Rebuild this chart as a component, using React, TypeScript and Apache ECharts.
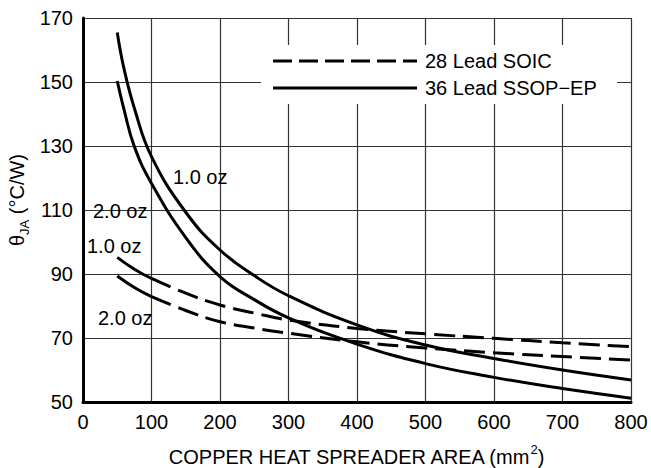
import React, { useEffect, useRef } from "react";
import * as echarts from "echarts";

const xTicks = [0, 100, 200, 300, 400, 500, 600, 700, 800];
const yTicks = [50, 70, 90, 110, 130, 150, 170];

const ssopAreas = [50, 60, 75, 100, 150, 200, 250, 300, 400, 500, 600, 700, 800];
const ssop1oz = [165.5, 154, 141.8, 126.7, 109.3, 97.5, 89.5, 83.2, 74.1, 67.8, 63.6, 60, 56.9];
const ssop2oz = [150.3, 141.3, 129.8, 118.3, 101.4, 89.2, 82, 76.3, 68.1, 62, 57.7, 54.2, 51.2];

const soicAreas = [50, 75, 100, 150, 200, 250, 300, 400, 500, 600, 700, 800];
const soic1oz = [95.2, 91.5, 88.6, 84.0, 80.3, 77.8, 75.6, 73.0, 71.3, 69.9, 68.5, 67.3];
const soic2oz = [89.4, 85.8, 82.9, 78.6, 75.1, 73.1, 71.5, 68.8, 66.9, 65.4, 64.2, 63.1];

const legendNames = ["28 Lead SOIC", "36 Lead SSOP\u2212EP"];
const curveLabels = ["1.0 oz", "2.0 oz", "1.0 oz", "2.0 oz"];

const FONT = "'Liberation Sans', Arial, Helvetica, sans-serif";
const FS = 20;

function pairs(xs: number[], ys: number[]) {
  return xs.map((x, i) => [x, ys[i]]);
}

export default function App() {
  const ref = useRef<HTMLDivElement>(null);
  useEffect(() => {
    if (!ref.current) return;
    const chart = echarts.init(ref.current, undefined, { renderer: "svg" });
    const solid = { color: "#000", width: 3, type: "solid" as const };
    const dashed = { color: "#000", width: 3, type: [21, 8] as any };
    const lineBase = {
      type: "line" as const,
      showSymbol: false,
      smooth: 0.45,
      silent: true,
    };
    const soic1 = pairs(soicAreas, soic1oz);
    const soic2 = pairs(soicAreas, soic2oz);
    chart.setOption({
      animation: false,
      backgroundColor: "#fff",
      textStyle: { fontFamily: FONT },
      grid: { left: 83, right: 20, top: 18, bottom: 66 },
      xAxis: {
        type: "value",
        min: 0,
        max: 800,
        interval: 100,
        axisLine: { show: true, onZero: false, lineStyle: { color: "#000", width: 3 } },
        axisTick: { show: false },
        axisLabel: { color: "#000", fontSize: FS, fontFamily: FONT, margin: 10 },
        splitLine: { show: true, lineStyle: { color: "#333", width: 1.2 } },
      },
      yAxis: {
        type: "value",
        min: 50,
        max: 170,
        interval: 20,
        axisLine: { show: true, onZero: false, lineStyle: { color: "#000", width: 3 } },
        axisTick: { show: false },
        axisLabel: { color: "#000", fontSize: FS, fontFamily: FONT, margin: 10 },
        splitLine: { show: true, lineStyle: { color: "#333", width: 1.2 } },
      },
      series: [
        { ...lineBase, name: "ssop1", data: pairs(ssopAreas, ssop1oz), lineStyle: solid },
        { ...lineBase, name: "ssop2", data: pairs(ssopAreas, ssop2oz), lineStyle: solid },
        { ...lineBase, name: "soic1a", data: soic1.slice(0, 3), lineStyle: solid },
        { ...lineBase, name: "soic1b", data: soic1.slice(2), lineStyle: dashed },
        { ...lineBase, name: "soic2a", data: soic2.slice(0, 3), lineStyle: solid },
        { ...lineBase, name: "soic2b", data: soic2.slice(2), lineStyle: dashed },
      ],
      graphic: [
        { type: "rect", z: 50, shape: { x: 261, y: 45, width: 356, height: 59 }, style: { fill: "#fff" } },
        { type: "line", z: 51, shape: { x1: 273, y1: 61, x2: 417, y2: 61 }, style: { stroke: "#000", lineWidth: 3, lineDash: [19, 7] } },
        { type: "line", z: 51, shape: { x1: 273, y1: 88, x2: 417, y2: 88 }, style: { stroke: "#000", lineWidth: 3 } },
        { type: "text", z: 51, x: 425, y: 61, style: { text: legendNames[0], fill: "#000", fontSize: FS, fontFamily: FONT, align: "left", verticalAlign: "middle" } },
        { type: "text", z: 51, x: 425, y: 88, style: { text: legendNames[1], fill: "#000", fontSize: FS, fontFamily: FONT, align: "left", verticalAlign: "middle" } },
        { type: "text", z: 51, x: 173, y: 177, style: { text: curveLabels[0], fill: "#000", fontSize: FS, fontFamily: FONT, align: "left", verticalAlign: "middle" } },
        { type: "text", z: 51, x: 93, y: 211, style: { text: curveLabels[1], fill: "#000", fontSize: FS, fontFamily: FONT, align: "left", verticalAlign: "middle" } },
        { type: "text", z: 51, x: 87, y: 246, style: { text: curveLabels[2], fill: "#000", fontSize: FS, fontFamily: FONT, align: "left", verticalAlign: "middle" } },
        { type: "text", z: 51, x: 98, y: 318, style: { text: curveLabels[3], fill: "#000", fontSize: FS, fontFamily: FONT, align: "left", verticalAlign: "middle" } },
        {
          type: "text",
          z: 51,
          x: 356,
          y: 455,
          style: {
            text: "{a|COPPER HEAT SPREADER AREA (mm}{s|2}{a|)}",
            align: "center",
            verticalAlign: "middle",
            rich: {
              a: { fontSize: FS, fontFamily: FONT, fill: "#000", lineHeight: 24, verticalAlign: "bottom" },
              s: { fontSize: 13, fontFamily: FONT, fill: "#000", lineHeight: 14, verticalAlign: "top" },
            },
          },
        },
        {
          type: "text",
          z: 51,
          x: 19,
          y: 200,
          rotation: Math.PI / 2,
          style: {
            text: "{a|\u03B8}{s|JA}{a| (\u00B0C/W)}",
            align: "center",
            verticalAlign: "middle",
            rich: {
              a: { fontSize: FS, fontFamily: FONT, fill: "#000", lineHeight: 24, verticalAlign: "top" },
              s: { fontSize: 13, fontFamily: FONT, fill: "#000", lineHeight: 14, verticalAlign: "bottom" },
            },
          },
        },
      ],
    });
    return () => chart.dispose();
  }, []);
  return (
    <div
      ref={ref}
      style={{ position: "fixed", left: 0, top: 0, width: 651, height: 468, background: "#fff" }}
    />
  );
}
